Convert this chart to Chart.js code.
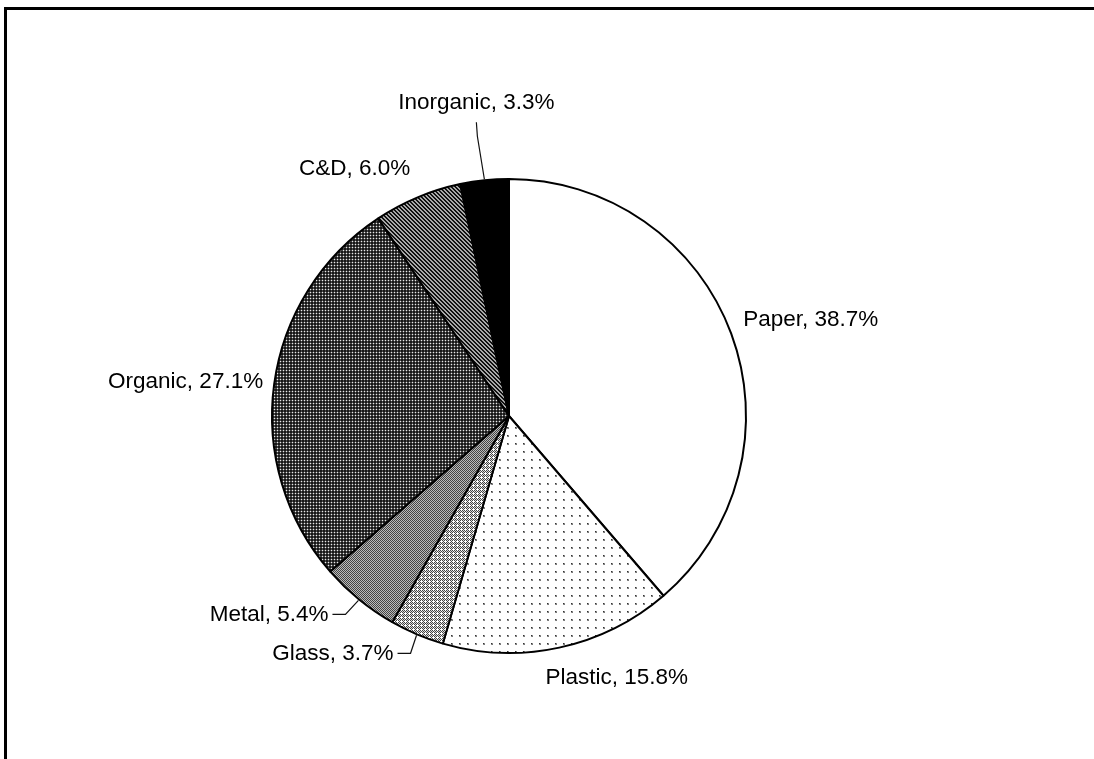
<!DOCTYPE html>
<html>
<head>
<meta charset="utf-8">
<script src="https://cdn.jsdelivr.net/npm/chart.js@4"></script>
<style>
  html, body { margin: 0; padding: 0; background: #fff; }
  #wrap { position: absolute; left: 0; top: 0; width: 1094px; height: 759px; }
</style>
</head>
<body>
<div id="wrap"><canvas id="pieChart" width="1094" height="759"></canvas></div>
<script>
// waste composition
const categories = ["Paper", "Plastic", "Glass", "Metal", "Organic", "C&D", "Inorganic"];
const shares = [38.7, 15.8, 3.7, 5.4, 27.1, 6.0, 3.3];

// label placement relative to the slice's outer mid point (layout only)
const labelPlace = [
    { dx: 11, dy: -13, align: "left" },
    { dx: -14, dy: 29, align: "left" },
    { dx: -23, dy: 18, align: "right", leader: "elbow" },
    { dx: -30, dy: 14, align: "right", leader: "elbow" },
    { dx: -10, dy: -2, align: "right" },
    { dx: -7, dy: -28, align: "right" },
    { dx: -8, dy: -76, align: "center", leader: "up" }
];

function tile(size, paint) {
    let c = document.createElement("canvas");
    c.width = size; c.height = size;
    let g = c.getContext("2d");
    paint(g, size);
    return g.createPattern(c, "repeat");
}

function px(g, x, y, col) { g.fillStyle = col; g.fillRect(x, y, 1, 1); }

let fills = [
    "#ffffff",
    // plastic: sparse dots
    tile(8, (g) => {
        g.fillStyle = "#fff"; g.fillRect(0, 0, 8, 8);
        px(g, 3, 3, "#333"); px(g, 4, 3, "#888"); px(g, 3, 4, "#888"); px(g, 4, 4, "#777");
    }),
    // glass: white crosses on checker
    tile(4, (g) => {
        for (let y = 0; y < 4; y++) for (let x = 0; x < 4; x++) {
            let plus = (x == 1 && y >= 0 && y <= 2) || (y == 1 && x <= 2);
            px(g, x, y, plus ? "#fff" : ((x + y) % 2 == 0 ? "#444" : "#ddd"));
        }
    }),
    // metal: fine checker
    tile(2, (g) => {
        px(g, 0, 0, "#444"); px(g, 1, 1, "#444");
        px(g, 1, 0, "#bbb"); px(g, 0, 1, "#bbb");
    }),
    // organic: dense white dots on dark
    tile(3, (g) => {
        g.fillStyle = "#181818"; g.fillRect(0, 0, 3, 3);
        px(g, 1, 1, "#e8e8e8");
        px(g, 0, 1, "#4a4a4a"); px(g, 2, 1, "#4a4a4a"); px(g, 1, 0, "#4a4a4a"); px(g, 1, 2, "#4a4a4a");
    }),
    // C&D: diagonal stripes
    tile(4, (g) => {
        for (let y = 0; y < 4; y++) for (let x = 0; x < 4; x++) {
            let d = ((x - y) % 4 + 4) % 4;
            px(g, x, y, d < 2 ? "#111" : "#a8a8a8");
        }
    }),
    "#000000"
];

const framePlugin = {
    id: "frame",
    beforeDraw(chart) {
        let ctx = chart.ctx;
        ctx.save();
        ctx.fillStyle = "#000";
        ctx.fillRect(4, 7, 1090, 3);
        ctx.fillRect(4, 7, 3, 752);
        ctx.restore();
    }
};

const labelPlugin = {
    id: "sliceLabels",
    afterDatasetsDraw(chart) {
        let ctx = chart.ctx;
        let meta = chart.getDatasetMeta(0);
        ctx.save();
        ctx.font = "22.5px 'Liberation Sans', Arial, sans-serif";
        ctx.fillStyle = "#000";
        ctx.textBaseline = "middle";
        meta.data.forEach((arc, i) => {
            let p = arc.getProps(["x", "y", "startAngle", "endAngle", "outerRadius"], true);
            let mid = (p.startAngle + p.endAngle) / 2;
            let ex = p.x + (p.outerRadius + 1) * Math.cos(mid);
            let ey = p.y + (p.outerRadius + 1) * Math.sin(mid);
            let place = labelPlace[i];
            let lx = ex + place.dx, ly = ey + place.dy;
            let text = categories[i] + ", " + shares[i].toFixed(1) + "%";
            ctx.textAlign = place.align;
            ctx.fillText(text, lx, ly);

            if (place.leader) {
                ctx.strokeStyle = "#111";
                ctx.lineWidth = 1.2;
                ctx.beginPath();
                if (place.leader == "elbow") {
                    ctx.moveTo(lx + 4, ly);
                    ctx.lineTo(lx + 17, ly);
                    ctx.lineTo(ex, ey);
                } else {
                    ctx.moveTo(lx, ly + 19);
                    ctx.lineTo(lx + 1, ly + 33);
                    ctx.lineTo(ex, ey);
                }
                ctx.stroke();
            }
        });
        ctx.restore();
    }
};

new Chart(document.getElementById("pieChart").getContext("2d"), {
    type: "pie",
    data: {
        labels: categories,
        datasets: [{
            data: shares,
            backgroundColor: fills,
            borderColor: "#000",
            borderWidth: 2
        }]
    },
    options: {
        responsive: false,
        animation: false,
        devicePixelRatio: 1,
        radius: 237,
        layout: { padding: { left: 0, right: 76, top: 73, bottom: 0 } },
        plugins: {
            legend: { display: false },
            tooltip: { enabled: false }
        }
    },
    plugins: [framePlugin, labelPlugin]
});
</script>
</body>
</html>
